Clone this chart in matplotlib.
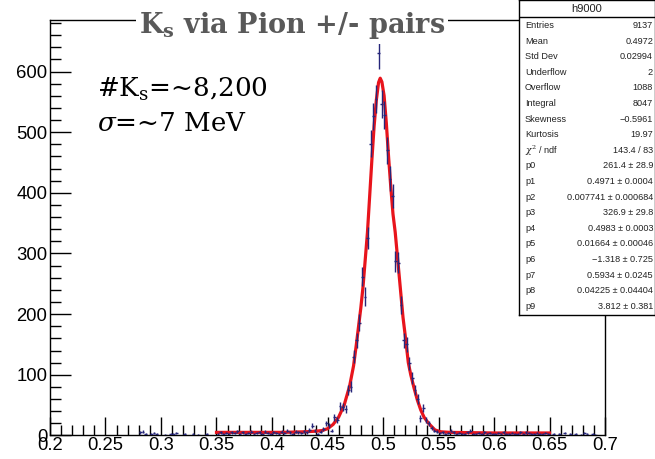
import numpy as np
import matplotlib
matplotlib.use("Agg")
import matplotlib.pyplot as plt
from matplotlib.ticker import MultipleLocator

plt.rcParams['mathtext.fontset'] = 'dejavuserif'

# ---------------- data ----------------
far_left_x = [0.28125, 0.28375, 0.28625, 0.29125, 0.29375, 0.29625, 0.30375, 0.30875,
              0.31125, 0.31375, 0.32125, 0.32875, 0.33375, 0.34125]
far_left_y = [5, 6, 3, 2, 4, 2, 1, 2, 3, 4, 2, 3, 1, 2]

left_tail_x = [0.35125, 0.35375, 0.35625, 0.35875, 0.36125, 0.36375, 0.36625, 0.36875,
               0.37125, 0.37375, 0.37625, 0.37875, 0.38125, 0.38375, 0.38625, 0.38875,
               0.39125, 0.39375, 0.39625, 0.39875, 0.40125, 0.40375, 0.40625, 0.40875,
               0.41125, 0.41375, 0.41625, 0.41875, 0.42125, 0.42375, 0.42625, 0.42875,
               0.43125, 0.43375]
left_tail_y = [3, 5, 2, 4, 3, 5, 4, 7, 3, 5, 2, 4, 6, 3, 4, 5, 3, 6, 4, 2, 5, 4, 3, 6,
               4, 8, 5, 3, 6, 5, 4, 7, 5, 9]

peak_x = [0.43625, 0.43875, 0.44125, 0.44375, 0.44625, 0.44875, 0.45125, 0.45375,
          0.45625, 0.45875, 0.46125, 0.46375, 0.46625, 0.46875, 0.47125, 0.47375,
          0.47625, 0.47875, 0.48125, 0.48375, 0.48625, 0.48875, 0.49125, 0.49375,
          0.49625, 0.49875, 0.50125, 0.50375, 0.50625, 0.50875, 0.51125, 0.51375,
          0.51625, 0.51875, 0.52125, 0.52375, 0.52625, 0.52875, 0.53125, 0.53375,
          0.53625, 0.53875, 0.54125, 0.54375, 0.54625, 0.54875, 0.55125]
peak_y = [16, 8, 3, 6, 10, 20, 17, 8, 30, 26, 48, 47, 43, 75, 80, 130,
          157, 186, 262, 229, 326, 481, 526, 555, 630, 546, 528, 470, 423, 395, 287, 285,
          215, 157, 150, 119, 95, 75, 60, 28, 45, 25, 20, 12, 8, 6, 4]

right_tail_x = [0.55375, 0.55625, 0.55875, 0.56125, 0.56375, 0.56625, 0.56875, 0.57125,
                0.57375, 0.57625, 0.57875, 0.58125, 0.58375, 0.58625, 0.58875, 0.59125,
                0.59375, 0.59625, 0.59875, 0.60125, 0.60375, 0.60625, 0.60875, 0.61125,
                0.61375, 0.61625, 0.61875, 0.62125, 0.62375, 0.62625, 0.62875, 0.63125,
                0.63375, 0.63625, 0.63875, 0.64125, 0.64375, 0.64625, 0.64875]
right_tail_y = [5, 3, 4, 8, 5, 3, 4, 2, 3, 5, 8, 3, 2, 4, 3, 5, 2, 4, 3, 2, 4, 3, 5, 2,
                3, 4, 2, 3, 5, 3, 5, 4, 2, 3, 4, 2, 3, 4, 2]

far_right_x = [0.65375, 0.65875, 0.66375, 0.66875, 0.67375, 0.67875, 0.68125, 0.68375,
               0.68875, 0.69125]
far_right_y = [3, 2, 4, 2, 3, 1, 4, 2, 3, 1]

fit_x = [0.350, 0.380, 0.410, 0.430, 0.440, 0.445, 0.450, 0.455, 0.460, 0.465, 0.470,
         0.4735, 0.476, 0.478, 0.480, 0.482, 0.484, 0.486, 0.488, 0.490, 0.492, 0.494,
         0.496, 0.4975, 0.499, 0.501, 0.503, 0.505, 0.507, 0.509, 0.511, 0.513, 0.5155,
         0.518, 0.520, 0.5228, 0.525, 0.528, 0.531, 0.534, 0.537, 0.541, 0.5468, 0.552,
         0.560, 0.600, 0.650]
fit_y = [5, 5, 5, 6, 7, 8, 11, 18, 30, 50, 82,
         115, 150, 180, 210, 245, 290, 335, 395, 455, 510, 553,
         582, 589, 583, 560, 515, 460, 410, 365, 335, 295, 245,
         195, 165, 120, 100, 78, 58, 42, 30, 20, 9, 6,
         5, 4, 4]

xticks = [0.2, 0.25, 0.3, 0.35, 0.4, 0.45, 0.5, 0.55, 0.6, 0.65, 0.7]
xticklabels = ["0.2", "0.25", "0.3", "0.35", "0.4", "0.45", "0.5", "0.55", "0.6", "0.65", "0.7"]
yticks = [0, 100, 200, 300, 400, 500, 600]

stat_labels = ["Entries", "Mean", "Std Dev", "Underflow", "Overflow", "Integral",
               "Skewness", "Kurtosis", r"$\chi^2$ / ndf", "p0", "p1", "p2", "p3", "p4",
               "p5", "p6", "p7", "p8", "p9"]
stat_values = ["9137", "0.4972", "0.02994", "2", "1088", "8047", "\u22120.5961", "19.97",
               "143.4 / 83", "261.4 \u00b1 28.9", "0.4971 \u00b1 0.0004",
               "0.007741 \u00b1 0.000684", "326.9 \u00b1 29.8", "0.4983 \u00b1 0.0003",
               "0.01664 \u00b1 0.00046", "\u22121.318 \u00b1 0.725", "0.5934 \u00b1 0.0245",
               "0.04225 \u00b1 0.04404", "3.812 \u00b1 0.381"]

# ---------------- figure ----------------
W, H = 655, 459
fig = plt.figure(figsize=(W / 100, H / 100), dpi=100)
fig.patch.set_facecolor('white')

ax_left, ax_right, ax_top, ax_bottom = 50, 605, 20, 435.4
ax = fig.add_axes([ax_left / W, 1 - ax_bottom / H, (ax_right - ax_left) / W,
                   (ax_bottom - ax_top) / H])
ax.set_xlim(0.2, 0.7)
ax.set_ylim(0, 685)

xs = np.array(far_left_x + left_tail_x + peak_x + right_tail_x + far_right_x)
ys = np.array(far_left_y + left_tail_y + peak_y + right_tail_y + far_right_y, dtype=float)

navy = '#26267a'
ax.plot(fit_x, fit_y, color='#e8141c', lw=2.3, zorder=3, solid_joinstyle='round')
ax.errorbar(xs, ys, yerr=np.sqrt(ys), xerr=0.00125, fmt='none', ecolor=navy,
            elinewidth=1.0, capsize=0, zorder=4)

ax.set_xticks(xticks)
ax.set_xticklabels(xticklabels)
ax.set_yticks(yticks)
ax.xaxis.set_minor_locator(MultipleLocator(0.01))
ax.yaxis.set_minor_locator(MultipleLocator(20))
ax.tick_params(axis='both', which='both', direction='in', top=False, right=False,
               width=1, color='black')
ax.tick_params(axis='y', which='major', length=15, pad=2, labelsize=13.3)
ax.tick_params(axis='y', which='minor', length=8)
ax.tick_params(axis='x', which='major', length=13, pad=1.0, labelsize=13.3)
ax.tick_params(axis='x', which='minor', length=7)
for lab in ax.get_xticklabels() + ax.get_yticklabels():
    lab.set_fontfamily('Liberation Sans')
for sp in ax.spines.values():
    sp.set_linewidth(1.0)
    sp.set_color('black')

# ---------------- title and annotations ----------------
fig.text(292 / W, 1 - 33 / H, r"K$_\mathbf{s}$ via Pion +/- pairs", fontfamily='DejaVu Serif',
         fontweight='bold', fontsize=19.5, color='#595959', ha='center', va='baseline',
         zorder=10, bbox=dict(facecolor='white', edgecolor='none', pad=2))
fig.text(97 / W, 1 - 97 / H, r"#K$_\mathrm{s}$=~8,200", fontfamily='DejaVu Serif',
         fontsize=18.8, color='black', ha='left', va='baseline')
fig.text(97 / W, 1 - 131 / H, r"$\sigma$=~7 MeV", fontfamily='DejaVu Serif',
         fontsize=18.8, color='black', ha='left', va='baseline')

# ---------------- stats box ----------------
bx0, bx1, by0, by1 = 519, 655, 0, 315
sax = fig.add_axes([bx0 / W, 1 - by1 / H, (bx1 - bx0) / W, (by1 - by0) / H], zorder=5)
sax.set_xlim(bx0, bx1)
sax.set_ylim(by1, by0)
sax.set_facecolor('white')
sax.set_xticks([])
sax.set_yticks([])
for name, sp in sax.spines.items():
    sp.set_linewidth(1.0)
    sp.set_color('black')
sax.plot([bx0, bx1], [17, 17], color='black', lw=1.0)
sax.text((bx0 + bx1) / 2, 8.5, "h9000", ha='center', va='center', fontsize=8,
         fontfamily='Liberation Sans', color='#222222')
row0, dy = 25.5, 15.6
for i, (lab, val) in enumerate(zip(stat_labels, stat_values)):
    yy = row0 + i * dy
    sax.text(525, yy, lab, ha='left', va='center', fontsize=6.6, fontfamily='Liberation Sans',
             color='#222222')
    sax.text(653, yy, val, ha='right', va='center', fontsize=6.6, fontfamily='Liberation Sans',
             color='#222222')

fig.savefig("out.png", dpi=100)
